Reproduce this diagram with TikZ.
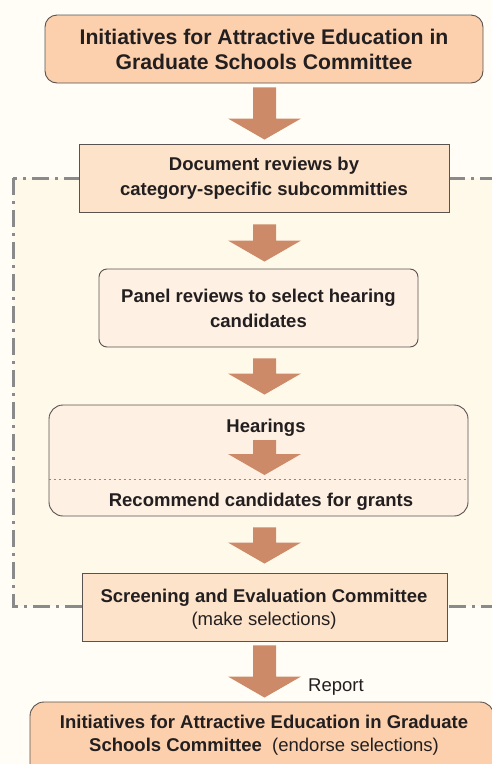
\documentclass[tikz,border=0pt]{standalone}
\usepackage{fontspec}
\setmainfont{Liberation Sans}
\usetikzlibrary{calc}
\definecolor{bg}{HTML}{FFFDF5}
\definecolor{inner}{HTML}{FFF9EA}
\definecolor{cA}{HTML}{FCD0AC}
\definecolor{cB}{HTML}{FDE3CA}
\definecolor{cC}{HTML}{FEF0E2}
\definecolor{arr}{HTML}{CC8A69}
\definecolor{edge}{HTML}{5A5250}
\definecolor{txt}{HTML}{231F20}
\definecolor{dd}{HTML}{8A8A8A}
\newcommand\blockarr[2]{\fill[arr] let \p1=(#1), \p2=(#2) in
  (\x1-11.5pt,\y1) -- (\x1+11.5pt,\y1) -- (\x1+11.5pt,\y2+21pt) -- (\x1+36.5pt,\y2+21pt)
  -- (\x1,\y2) -- (\x1-36.5pt,\y2+21pt) -- (\x1-11.5pt,\y2+21pt) -- cycle;}
\begin{document}
\begin{tikzpicture}[x=1pt,y=-1pt,
  every node/.style={inner sep=0pt, text=txt},
  box/.style={draw=edge, line width=0.9pt, align=center,
    font=\fontsize{18.5}{25}\selectfont\bfseries},
  lbl/.style={font=\fontsize{18.5}{25}\selectfont\bfseries},
  reg/.style={font=\fontsize{18.5}{25}\selectfont}]
\fill[bg] (0,0) rectangle (492,764);
\useasboundingbox (0,0) rectangle (492,764);
% dash-dot region
\draw[fill=inner, draw=dd, line width=3pt, dash pattern=on 17pt off 6pt on 3pt off 6pt]
  (13,178) rectangle (515,606);
\coordinate (ax) at (264.5,0);
% boxes
\node[box, rounded corners=12pt, fill=cA, minimum width=438, minimum height=68,
  font=\fontsize{21.2}{25}\selectfont\bfseries] (top) at (264,49)
  {Initiatives for Attractive Education in\\Graduate Schools Committee};
\node[box, fill=cB, minimum width=370, minimum height=68] (doc) at (264,178)
  {Document reviews by\\category-specific subcommitties};
\node[box, rounded corners=8pt, fill=cC, minimum width=319, minimum height=78] (panel) at (258.5,308)
  {Panel reviews to select hearing\\candidates};
\node[box, rounded corners=14pt, fill=cC, minimum width=419, minimum height=111] (hear) at (258.5,460.5) {};
\node[lbl, anchor=base] (hearT) at (266,432) {Hearings};
\node[lbl, anchor=base] (recT) at (261,506) {Recommend candidates for grants};
\draw[dd, line width=0.8pt, dash pattern=on 2.5pt off 2.5pt] (hear.west |- 0,479) -- (hear.east |- 0,479);
\node[box, fill=cB, minimum width=365, minimum height=68] (scr) at (264.5,607) {};
\node[lbl, anchor=base] (scrT) at (264,602) {Screening and Evaluation Committee};
\node[reg, anchor=base] (scrT2) at (264,625) {(make selections)};
\node[box, rounded corners=14pt, fill=cA, minimum width=464, minimum height=88] (bot) at (262,746) {};
\node[lbl, anchor=base] (botT1) at (264,728) {Initiatives for Attractive Education in Graduate};
\node[anchor=base] (botT2) at (264,751) {\fontsize{18.5}{25}\selectfont\textbf{Schools Committee}\ \ (endorse selections)};
\node[reg, anchor=base west] (rep) at (308,691) {Report};
% arrows
\coordinate (a1s) at ($(top.south -| ax)+(0,4)$);
\coordinate (a1e) at ($(doc.north -| ax)+(0,-4)$);
\coordinate (a2s) at ($(doc.south -| ax)+(0,12)$);
\coordinate (a2e) at ($(panel.north -| ax)+(0,-7)$);
\coordinate (a3s) at ($(panel.south -| ax)+(0,11)$);
\coordinate (a3e) at ($(hear.north -| ax)+(0,-10)$);
\coordinate (a4s) at ($(hearT.base -| ax)+(0,8)$);
\coordinate (a4e) at ($(recT.base -| ax)+(0,-31)$);
\coordinate (a5s) at ($(hear.south -| ax)+(0,11)$);
\coordinate (a5e) at ($(scr.north -| ax)+(0,-9)$);
\coordinate (a6s) at ($(scr.south -| ax)+(0,4)$);
\coordinate (a6e) at ($(bot.north -| ax)+(0,-4)$);
\blockarr{a1s}{a1e}
\blockarr{a2s}{a2e}
\blockarr{a3s}{a3e}
\blockarr{a4s}{a4e}
\blockarr{a5s}{a5e}
\blockarr{a6s}{a6e}
\end{tikzpicture}
\end{document}
